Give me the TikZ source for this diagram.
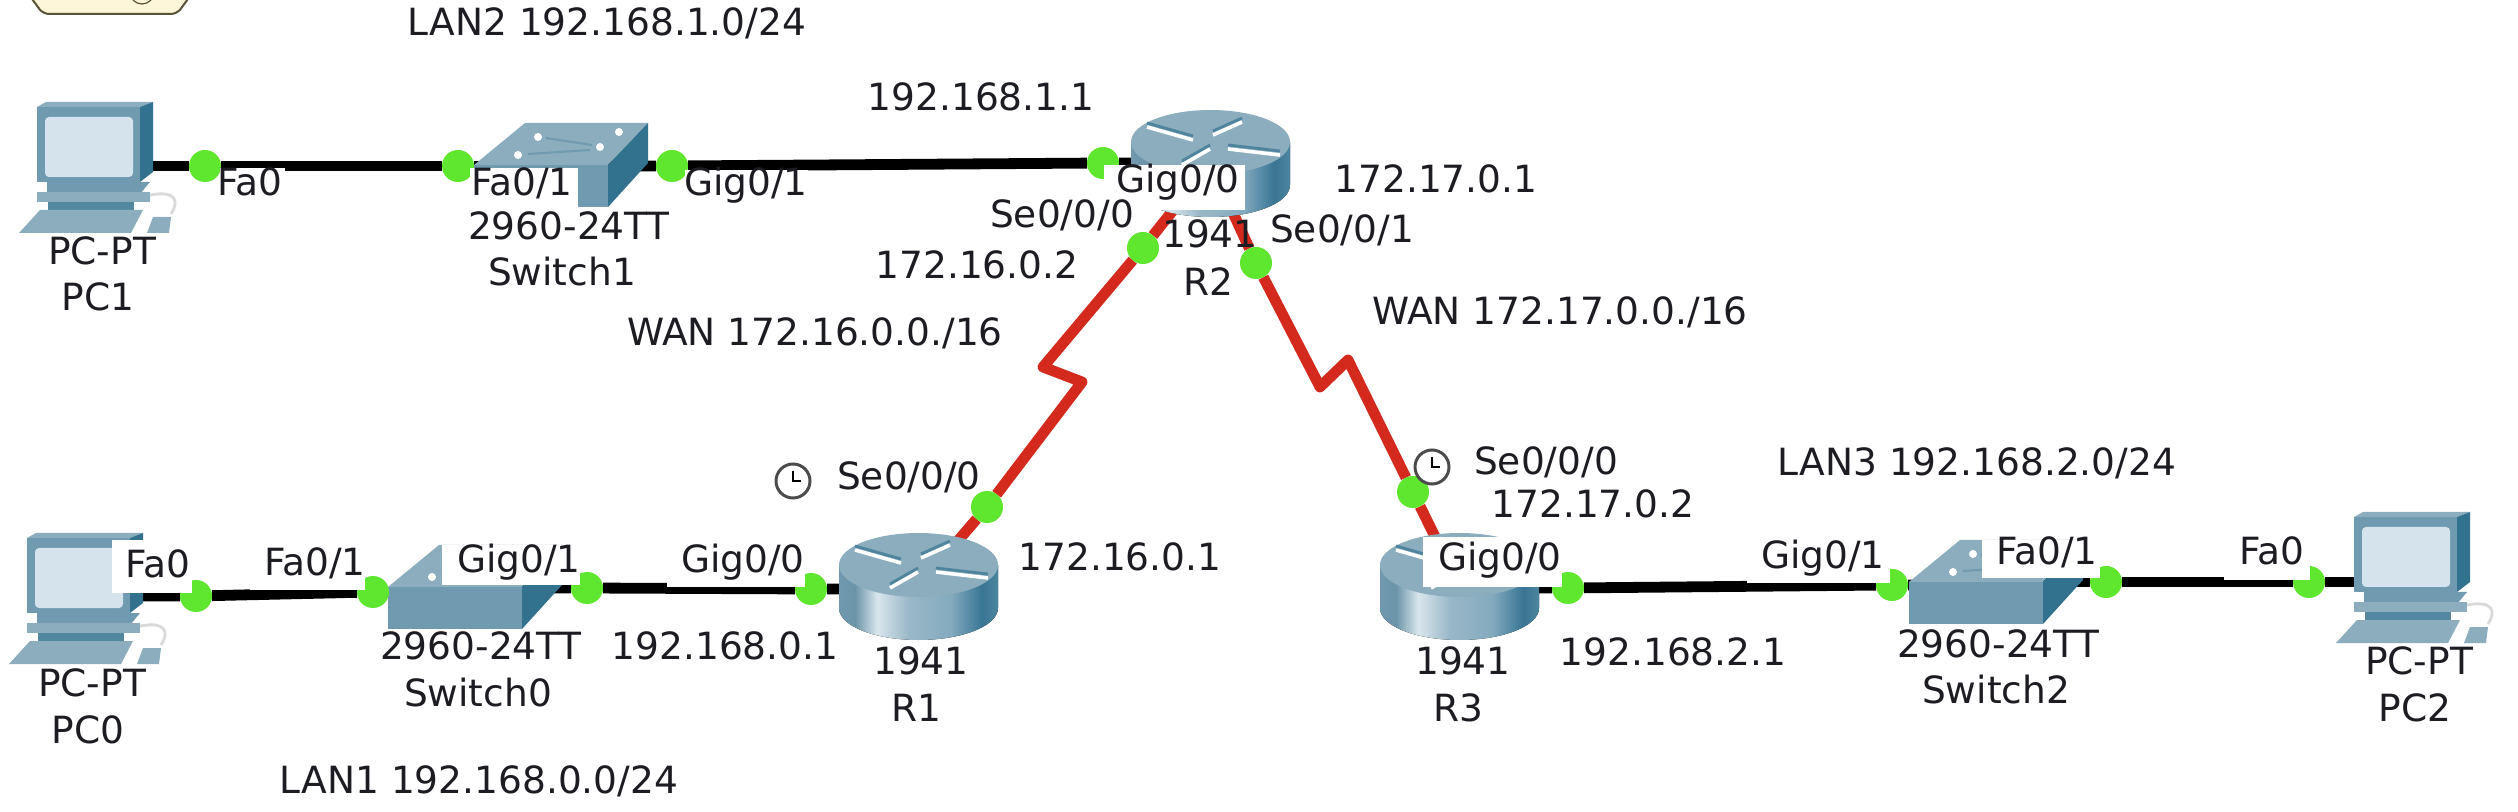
\documentclass[tikz,border=0pt]{standalone}
\usepackage{fontspec}
\setmainfont{DejaVu Sans}
\pgfdeclarelayer{bg}
\pgfsetlayers{bg,main}
\definecolor{tealtop}{HTML}{8BADBD}
\definecolor{tealfront}{HTML}{6F9AB0}
\definecolor{tealdark}{HTML}{33728F}
\definecolor{portgreen}{HTML}{5FE62E}
\definecolor{serialred}{HTML}{D42A1E}
\definecolor{screenlight}{HTML}{D5E3EC}
\definecolor{notefill}{HTML}{FDF6D8}
\definecolor{noteedge}{HTML}{5A5238}
\definecolor{inkdark}{HTML}{1C1C22}
\pgfdeclarehorizontalshading{routerside}{100bp}{
  rgb(0bp)=(0.44,0.60,0.69);
  rgb(25bp)=(0.44,0.60,0.69);
  rgb(30bp)=(0.42,0.58,0.66);
  rgb(37bp)=(0.85,0.90,0.93);
  rgb(47bp)=(0.60,0.72,0.78);
  rgb(60bp)=(0.52,0.67,0.75);
  rgb(70bp)=(0.22,0.46,0.58);
  rgb(75bp)=(0.30,0.52,0.62);
  rgb(100bp)=(0.30,0.52,0.62)}
\tikzset{
  x=0.5pt,y=-0.5pt,
  devarea/.style={inner sep=0pt,minimum size=0pt,outer sep=0pt},
  portdot/.style={circle,fill=portgreen,inner sep=0pt,minimum size=16pt,outer sep=0pt},
  wire/.style={line width=5.4pt,black},
  serial/.style={line width=5.4pt,serialred,line join=round},
  mask/.style={fill=white,draw=none},
  lab/.style={anchor=base,yshift=-6.5pt,inner sep=0pt,outer sep=0pt,text=inkdark,font=\fontsize{18.75pt}{20pt}\selectfont},
  clockface/.style={circle,draw=black!70,fill=white,line width=1.5pt,inner sep=0pt,minimum size=17pt},
  routerpic/.pic={
    \fill[shading=routerside] (0,32) -- (0,75) .. controls (0,93) and (36,107) .. (79.5,107) .. controls (123,107) and (159,93) .. (159,75) -- (159,32) -- cycle;
    \fill[tealtop] (0,32) .. controls (0,14) and (36,0) .. (79.5,0) .. controls (123,0) and (159,14) .. (159,32) .. controls (159,50) and (123,64) .. (79.5,64) .. controls (36,64) and (0,50) .. (0,32) -- cycle;
    \foreach \ax/\ay/\bx/\by in {16/17/62/30,82/25/111/12,97/39/149/45,51/55/79/39}{
      \draw[line width=1.4pt,tealdark!70!tealtop] (\ax,\ay-4) -- (\bx,\by-4);
      \draw[line width=1.8pt,white] (\ax,\ay) -- (\bx,\by);
    }
  },
  switchpic/.pic={
    \fill[tealtop] (0,0) -- (51,-42) -- (174,-42) -- (134,0) -- cycle;
    \fill[tealfront] (0,0) rectangle (134,42);
    \fill[tealdark] (134,0) -- (174,-42) -- (174,-2) -- (134,42) -- cycle;
    \fill[white] (64,-28) circle[radius=4] (145,-33) circle[radius=4] (126,-18) circle[radius=4] (44,-10) circle[radius=4];
    \draw[tealfront,line width=1pt] (72,-27) -- (118,-20) (54,-11) -- (116,-15);
  },
  pcpic/.pic={
    \fill[tealtop] (0,5) -- (9,0) -- (116,0) -- (103,5) -- cycle;
    \fill[tealdark] (103,5) -- (116,0) -- (116,70) -- (103,80) -- cycle;
    \fill[tealfront] (0,5) rectangle (103,80);
    \fill[screenlight,rounded corners=2pt] (8,15) rectangle (96,75);
    \draw[gray!30,line width=1.4pt] (113,93) .. controls (140,88) and (142,100) .. (134,112);
    \fill[tealfront] (10,80) -- (113,80) -- (103,92) -- (10,92) -- cycle;
    \fill[tealtop] (0,90) rectangle (113,100);
    \fill[tealdark!85!white] (11,100) rectangle (97,108);
    \fill[tealtop] (-18,131) -- (3,108) -- (106,108) -- (94,131) -- cycle;
    \fill[tealtop] (116,115) -- (134,115) -- (132,131) -- (110,131) -- cycle;
  }
}
\begin{document}
\begin{tikzpicture}
\useasboundingbox (0,0) rectangle (2518,812);

% note fragment at the top edge
\begin{scope}
  \clip (0,0) rectangle (2518,812);
  \draw[fill=notefill,draw=noteedge,line width=1pt,rounded corners=3pt] (27,-8) -- (43,14) -- (177,14) -- (193,-8) -- cycle;
  \draw[noteedge,line width=0.6pt] (142,-8) circle[radius=12];
\end{scope}

% device anchors
\node[devarea] (PC1) at (90,140) {};
\node[devarea] (PC0) at (80,570) {};
\node[devarea] (PC2) at (2410,550) {};
\node[devarea] (Sw1) at (560,165) {};
\node[devarea] (Sw0) at (470,587) {};
\node[devarea] (Sw2) at (1990,582) {};
\node[devarea] (R1) at (918.5,586.5) {};
\node[devarea] (R2) at (1210.5,163.5) {};
\node[devarea] (R3) at (1459.5,586.5) {};

% device drawings
\pic at (37,102) {pcpic};
\pic at (27,533) {pcpic};
\pic at (2354,512) {pcpic};
\pic at (474,165) {switchpic};
\pic at (388,587) {switchpic};
\pic at (1909,582) {switchpic};
\pic at (839,533) {routerpic};
\pic at (1131,110) {routerpic};
\pic at (1380,533) {routerpic};

% port lights
\node[portdot] (pA) at (205,166) {};
\node[portdot] (pB) at (458,166) {};
\node[portdot] (pC) at (672,166) {};
\node[portdot] (pD) at (1103,163) {};
\node[portdot] (pE) at (196,596) {};
\node[portdot] (pF) at (373,592) {};
\node[portdot] (pG) at (587,588) {};
\node[portdot] (pH) at (811,589) {};
\node[portdot] (pI) at (1568,588) {};
\node[portdot] (pJ) at (1892,585) {};
\node[portdot] (pK) at (2106,582) {};
\node[portdot] (pL) at (2309,582) {};
\node[portdot] (sA) at (1143,248) {};
\node[portdot] (sB) at (987,507) {};
\node[portdot] (sC) at (1256,263) {};
\node[portdot] (sD) at (1413,492) {};

% serial zigzag bends
\coordinate (zA) at (1043,367);
\coordinate (zB) at (1082,382);
\coordinate (zC) at (1320,387);
\coordinate (zD) at (1348,360);

% connectors
\begin{pgfonlayer}{bg}
  \fill[white] (0,0) rectangle (2518,812);
  \draw[wire] (PC1 |- pA) -- (pA) -- (pB) -- (Sw1 |- pB);
  \draw[wire] (Sw1 |- pC) -- (pC) -- (pD) -- (R2 |- pD);
  \draw[wire] (PC0 |- pE) -- (pE) -- (pF) -- (Sw0 |- pF);
  \draw[wire] (Sw0 |- pG) -- (pG) -- (pH) -- (R1 |- pH);
  \draw[wire] (R3 |- pI) -- (pI) -- (pJ) -- (Sw2 |- pJ);
  \draw[wire] (Sw2 |- pK) -- (pK) -- (pL) -- (PC2 |- pL);
  \draw[serial] (R2) -- (sA) -- (zA) -- (zB) -- (sB) -- (R1);
  \draw[serial] (R2) -- (sC) -- (zC) -- (zD) -- (sD) -- (R3);
\end{pgfonlayer}

% white backgrounds of the port labels
\fill[mask] (220,168) rectangle (285,200);
\fill[mask] (470,168) rectangle (578,207);
\fill[mask] (685,170) rectangle (808,200);
\fill[mask] (1104,165) rectangle (1245,210);
\fill[mask] (112,540) rectangle (192,593);
\fill[mask] (250,540) rectangle (365,590);
\fill[mask] (442,545) rectangle (580,585);
\fill[mask] (667,535) rectangle (805,587);
\fill[mask] (1423,537) rectangle (1562,587);
\fill[mask] (1747,535) rectangle (1890,583);
\fill[mask] (1982,540) rectangle (2100,578);
\fill[mask] (2224,540) rectangle (2310,580);

% clocks
\foreach \nm/\cx/\cy in {ckA/793/481,ckB/1432/467}{
  \node[clockface] (\nm) at (\cx,\cy) {};
  \draw[black,line width=1.1pt] (\cx,\cy-10) -- (\cx,\cy) -- (\cx+8,\cy);
}

% texts
\node[lab] (t1) at (607,23) {LAN2 192.168.1.0/24};
\node[lab] (t2) at (102,252) {PC-PT};
\node[lab] (t3) at (98,298) {PC1};
\node[lab] (t4) at (250,183) {Fa0};
\node[lab] (t5) at (522,183) {Fa0/1};
\node[lab] (t6) at (746,183) {Gig0/1};
\node[lab] (t7) at (569,227) {2960-24TT};
\node[lab] (t8) at (562,273) {Switch1};
\node[lab] (t9) at (981,98) {192.168.1.1};
\node[lab] (t10) at (1178,180) {Gig0/0};
\node[lab] (t11) at (1062,215) {Se0/0/0};
\node[lab] (t12) at (977,266) {172.16.0.2};
\node[lab] (t13) at (1210,235) {1941};
\node[lab] (t14) at (1208,283) {R2};
\node[lab] (t15) at (1342,230) {Se0/0/1};
\node[lab] (t16) at (1436,180) {172.17.0.1};
\node[lab] (t17) at (815,333) {WAN 172.16.0.0./16};
\node[lab] (t18) at (1560,312) {WAN 172.17.0.0./16};
\node[lab] (t19) at (909,477) {Se0/0/0};
\node[lab] (t20) at (1120,558) {172.16.0.1};
\node[lab] (t21) at (921,662) {1941};
\node[lab] (t22) at (916,708) {R1};
\node[lab] (t23) at (1546,462) {Se0/0/0};
\node[lab] (t24) at (1593,505) {172.17.0.2};
\node[lab] (t25) at (1500,558) {Gig0/0};
\node[lab] (t26) at (1463,662) {1941};
\node[lab] (t27) at (1458,708) {R3};
\node[lab] (t28) at (1673,652) {192.168.2.1};
\node[lab] (t29) at (1977,463) {LAN3 192.168.2.0/24};
\node[lab] (t30) at (1823,555) {Gig0/1};
\node[lab] (t31) at (2047,552) {Fa0/1};
\node[lab] (t32) at (2272,552) {Fa0};
\node[lab] (t33) at (1998,644) {2960-24TT};
\node[lab] (t34) at (1996,690) {Switch2};
\node[lab] (t35) at (2419,662) {PC-PT};
\node[lab] (t36) at (2415,708) {PC2};
\node[lab] (t37) at (158,565) {Fa0};
\node[lab] (t38) at (315,562) {Fa0/1};
\node[lab] (t39) at (519,560) {Gig0/1};
\node[lab] (t40) at (743,560) {Gig0/0};
\node[lab] (t41) at (725,647) {192.168.0.1};
\node[lab] (t42) at (481,647) {2960-24TT};
\node[lab] (t43) at (478,693) {Switch0};
\node[lab] (t44) at (92,683) {PC-PT};
\node[lab] (t45) at (88,730) {PC0};
\node[lab] (t46) at (479,780) {LAN1 192.168.0.0/24};
\end{tikzpicture}
\end{document}
